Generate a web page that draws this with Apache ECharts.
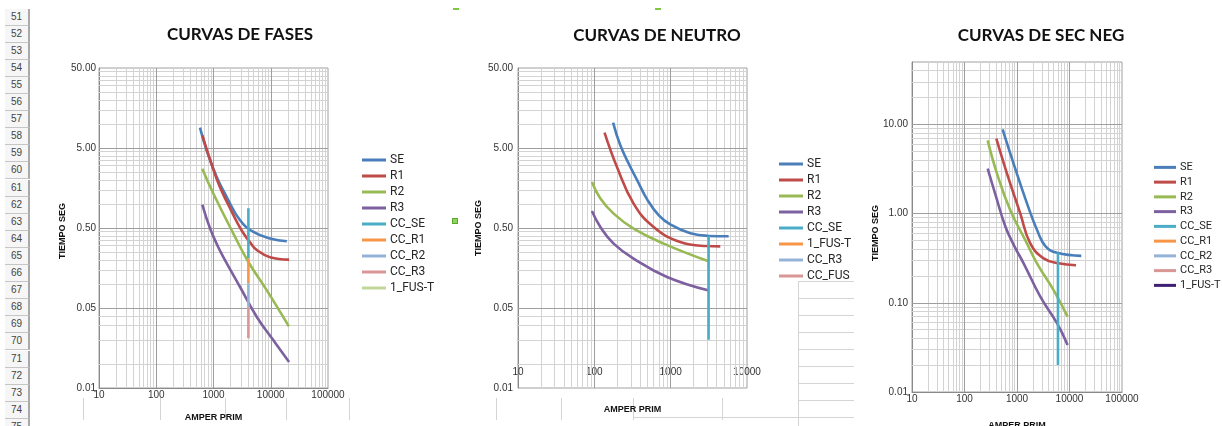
<!DOCTYPE html>
<html><head><meta charset="utf-8">
<script src="https://cdn.jsdelivr.net/npm/echarts@6/dist/echarts.min.js"></script>
<style>
html,body{margin:0;padding:0;background:#fff;width:1222px;height:426px;overflow:hidden;font-family:"Liberation Sans",Arial,sans-serif;}
.rowhdr{position:absolute;left:5px;width:23px;height:16px;border-bottom:1px solid #c6c6c6;border-right:2px solid #a9a9a9;background:#f6f6f6;font-size:10px;color:#444;text-align:center;line-height:16px;}
.vl{position:absolute;width:1px;background:#d4d4d4;}
.hl{position:absolute;height:1px;background:#d4d4d4;}
.chart{position:absolute;top:0;height:426px;}
.h1{position:absolute;background:#7cc843;}
</style></head>
<body>
<div id="sheet"></div>
<div id="c1" class="chart" style="left:35px;width:410px;"></div>
<div id="c2" class="chart" style="left:455px;width:404px;"></div>
<div id="c3" class="chart" style="left:845px;width:392px;"></div>
<script>
// ---------------- tick labels ----------------
const X_TICKS_4 = [10, 100, 1000, 10000, 100000];
const X_LABELS_4 = ['10', '100', '1000', '10000', '100000'];
const X_TICKS_3 = [10, 100, 1000, 10000];
const X_LABELS_3 = ['10', '100', '1000', '10000'];
const Y_TICKS_A = [0.005, 0.05, 0.5, 5, 50];
const Y_LABELS_A = ['0.01', '0.05', '0.50', '5.00', '50.00'];
const Y_TICKS_C = [0.01, 0.1, 1, 10];
const Y_LABELS_C = ['0.01', '0.10', '1.00', '10.00'];

// ---------------- CURVAS DE FASES ----------------
const F_SE_A = [580, 760, 1137, 1702, 2910, 4980, 9750, 19100];
const F_SE_T = [9.0, 4.68, 2.17, 1.22, 0.624, 0.446, 0.369, 0.341];
const F_R1_A = [640, 800, 1137, 1486, 2000, 2547, 3400, 4356, 5710, 9750, 20900];
const F_R1_T = [7.2, 4.3, 2.05, 1.3, 0.85, 0.6, 0.42, 0.33, 0.265, 0.215, 0.201];
const F_R2_A = [637, 993, 2223, 4070, 8550, 20700];
const F_R2_T = [2.76, 1.35, 0.426, 0.188, 0.083, 0.0295];
const F_R3_A = [637, 869, 1213, 1486, 2910, 5710, 11140, 20900];
const F_R3_T = [0.98, 0.496, 0.287, 0.217, 0.0915, 0.0386, 0.0197, 0.0106];
const F_CCSE_A = [4070, 4070];  const F_CCSE_T = [0.88, 0.21];
const F_CCR1_A = [4070, 4070];  const F_CCR1_T = [0.21, 0.102];
const F_CCR2_A = [4070, 4070];  const F_CCR2_T = [0.102, 0.051];
const F_CCR3_A = [4070, 4070];  const F_CCR3_T = [0.051, 0.0209];
const F_FUS_A = [];  const F_FUS_T = [];

// ---------------- CURVAS DE NEUTRO ----------------
const N_SE_A = [176, 219, 296, 362, 489, 700, 1000, 1808, 3140, 5740];
const N_SE_T = [10.4, 5.4, 2.9, 2.0, 1.15, 0.72, 0.55, 0.43, 0.398, 0.394];
const N_R1_A = [136, 198, 327, 598, 1337, 2990, 4470];
const N_R1_T = [7.79, 2.89, 1.01, 0.515, 0.334, 0.298, 0.295];
const N_R2_A = [93, 120, 179, 327, 809, 3080];
const N_R2_T = [1.88, 1.17, 0.757, 0.491, 0.319, 0.193];
const N_R3_A = [93, 120, 179, 327, 895, 3080];
const N_R3_T = [0.816, 0.515, 0.319, 0.207, 0.122, 0.0833];
const N_CCSE_A = [3140, 3140];  const N_CCSE_T = [0.397, 0.0201];

// ---------------- CURVAS DE SEC NEG ----------------
const S_SE_A = [532, 861, 1549, 2500, 3500, 5780, 16800];
const S_SE_T = [8.79, 3.63, 1.30, 0.62, 0.43, 0.363, 0.336];
const S_R1_A = [404, 645, 1156, 1790, 3210, 6200, 13300];
const S_R1_T = [6.92, 2.81, 1.0, 0.463, 0.315, 0.277, 0.263];
const S_R2_A = [276, 416, 745, 1440, 2400, 4980, 9200];
const S_R2_T = [6.62, 2.81, 1.09, 0.504, 0.277, 0.139, 0.070];
const S_R3_A = [276, 386, 598, 889, 1337, 2780, 5780, 9200];
const S_R3_T = [3.19, 1.65, 0.722, 0.432, 0.277, 0.117, 0.059, 0.0337];
const S_CCSE_A = [6030, 6030];  const S_CCSE_T = [0.363, 0.0201];

// ---------------- styling ----------------
const C = {SE:'#4A7EBB', R1:'#BE4B48', R2:'#98B954', R3:'#7D60A0', CCSE:'#4BACC6', CCR1:'#F79646',
           CCR2:'#95B3D7', CCR3:'#D99694', FUSL:'#C3D69B', FUSD:'#3F1F73'};
const MINOR_C = '#d3d3d3', MAJOR_C = '#9e9e9e', AXIS_C = '#8a8a8a';

// ---------------- spreadsheet background ----------------
(function(){
  const sh = document.getElementById('sheet');
  let html = '';
  for (let r = 51; r <= 75; r++) {
    const top = 8.5 + (r - 51) * 17.1;
    html += '<div class="rowhdr" style="top:' + top.toFixed(1) + 'px">' + r + '</div>';
  }
  [83,160,225,286,349,496,561,633,722].forEach(x => { html += '<div class="vl" style="left:'+x+'px;top:398px;height:22px"></div>'; });
  html += '<div class="vl" style="left:798px;top:281px;height:145px"></div>';
  [281,298,315,332,349,366,383,400,417].forEach(y => { html += '<div class="hl" style="left:798px;top:'+y+'px;width:56px"></div>'; });
  html += '<div class="hl" style="left:633px;top:417px;width:165px"></div>';
  html += '<div class="h1" style="left:453px;top:8px;width:6px;height:2px"></div>';
  html += '<div class="h1" style="left:655px;top:8px;width:6px;height:2px"></div>';
  html += '<div class="h1" style="left:452px;top:218px;width:6px;height:6px;background:#8ed45a;border:1px solid #5aa82c;box-sizing:border-box"></div>';
  sh.innerHTML = html;
})();

function pairs(A, T) { return A.map((a, i) => [a, T[i]]); }
function labelFor(ticks, labels, v) {
  let best = -1, bd = Infinity;
  ticks.forEach((t, i) => { const d = Math.abs(Math.log10(t) - Math.log10(v)); if (d < bd) { bd = d; best = i; } });
  return bd < 0.02 ? labels[best] : '';
}
function minorVals(bases, limit) {
  const out = [];
  bases.forEach(b => { for (let k = 2; k <= 9; k++) { const v = b * k; if (v < limit * 0.999) out.push(v); } });
  return out;
}

function build(id, c) {
  const chart = echarts.init(document.getElementById(id), null, {renderer: 'canvas'});
  const mk = [];
  const ls = col => ({color: col, width: 1, type: 'solid'});
  c.xMinor.forEach(v => mk.push({xAxis: v, lineStyle: ls(MINOR_C)}));
  c.yMinor.forEach(v => mk.push({yAxis: v, lineStyle: ls(MINOR_C)}));
  c.xMajor.forEach(v => mk.push({xAxis: v, lineStyle: ls(MAJOR_C)}));
  c.yMajor.forEach(v => mk.push({yAxis: v, lineStyle: ls(MAJOR_C)}));
  const series = [{
    type: 'line', name: '__grid', data: [], silent: true, z: 1, animation: false,
    markLine: {silent: true, z: 1, symbol: ['none', 'none'], label: {show: false}, animation: false,
               emphasis: {disabled: true}, data: mk}
  }];
  c.series.forEach(s => series.push({
    type: 'line', name: s.name, data: pairs(s.A, s.T), showSymbol: false, symbol: 'none',
    smooth: s.A.length > 2 ? 0.45 : false, z: 6, animation: false,
    lineStyle: {color: s.color, width: 2.6}, itemStyle: {color: s.color}
  }));
  chart.setOption({
    animation: false,
    title: {text: c.title, left: 'center', top: c.titleTop, padding: 0,
            textStyle: {fontFamily: 'Lato', fontWeight: 'bold', fontSize: 17, color: '#111'}},
    legend: {
      orient: 'vertical', left: c.legLeft, top: c.legTop, itemGap: 0, itemWidth: c.legIW, itemHeight: 3,
      icon: 'rect', selectedMode: false, padding: 0,
      textStyle: {fontFamily: 'Roboto', fontSize: c.legFS, color: '#262626', lineHeight: c.legLH, padding: [0, 0, 0, -1]},
      data: c.series.map(s => s.name)
    },
    grid: {left: c.grid[0], top: c.grid[1], width: c.grid[2], height: c.grid[3], show: true,
           borderColor: '#a0a0a0', borderWidth: 1, containLabel: false, outerBoundsMode: 'none'},
    xAxis: {
      type: 'log', logBase: 10, min: c.xTicks[0], max: c.xTicks[c.xTicks.length - 1],
      offset: c.xOffset || 0,
      name: 'AMPER PRIM', nameLocation: 'middle', nameGap: c.xNameGap, nameMoveOverlap: false,
      nameTextStyle: {fontFamily: 'Liberation Sans', fontWeight: 'bold', fontSize: 9, color: '#111'},
      axisLine: {show: true, lineStyle: {color: AXIS_C, width: 1}},
      axisTick: {show: false},
      splitLine: {show: false}, minorSplitLine: {show: false},
      axisLabel: {customValues: c.xTicks, showMinLabel: true, showMaxLabel: true, margin: c.xLabMargin,
                  fontFamily: 'Liberation Sans', fontSize: 10, color: '#333',
                  formatter: v => labelFor(c.xTicks, c.xLabels, v)}
    },
    yAxis: {
      type: 'log', logBase: 10, min: c.yMin, max: c.yMax,
      name: 'TIEMPO SEG', nameLocation: 'middle', nameGap: c.yNameGap, nameRotate: 90, nameMoveOverlap: false,
      nameTextStyle: {fontFamily: 'Liberation Sans', fontWeight: 'bold', fontSize: 9, color: '#111',
                      padding: [0, c.yNamePad, 0, 0]},
      axisLine: {show: true, lineStyle: {color: AXIS_C, width: 1}},
      axisTick: {show: false},
      splitLine: {show: false}, minorSplitLine: {show: false},
      axisLabel: {customValues: c.yTicks, showMinLabel: true, showMaxLabel: true, margin: c.yLabMargin,
                  fontFamily: 'Liberation Sans', fontSize: 10, color: '#333',
                  formatter: v => labelFor(c.yTicks, c.yLabels, v)}
    },
    series: series
  });
}

const X_MINOR_4 = minorVals([10, 100, 1000, 10000], 100000);
const X_MINOR_3 = minorVals([10, 100, 1000], 10000);

build('c1', {
  title: 'CURVAS DE FASES', titleTop: 26,
  grid: [64, 68, 229, 320], legLeft: 327, legTop: 152, legLH: 16, legFS: 12, legIW: 24,
  xTicks: X_TICKS_4, xLabels: X_LABELS_4, xNameGap: 25, xLabMargin: 2,
  yMin: 0.005, yMax: 50, yTicks: Y_TICKS_A, yLabels: Y_LABELS_A, yNameGap: 32, yNamePad: 6, yLabMargin: 3,
  xMinor: X_MINOR_4, xMajor: [100, 1000, 10000],
  yMinor: minorVals([0.005, 0.05, 0.5, 5], 50), yMajor: [0.05, 0.5, 5],
  series: [
    {name: 'SE', color: C.SE, A: F_SE_A, T: F_SE_T},
    {name: 'R1', color: C.R1, A: F_R1_A, T: F_R1_T},
    {name: 'R2', color: C.R2, A: F_R2_A, T: F_R2_T},
    {name: 'R3', color: C.R3, A: F_R3_A, T: F_R3_T},
    {name: 'CC_SE', color: C.CCSE, A: F_CCSE_A, T: F_CCSE_T},
    {name: 'CC_R1', color: C.CCR1, A: F_CCR1_A, T: F_CCR1_T},
    {name: 'CC_R2', color: C.CCR2, A: F_CCR2_A, T: F_CCR2_T},
    {name: 'CC_R3', color: C.CCR3, A: F_CCR3_A, T: F_CCR3_T},
    {name: '1_FUS-T', color: C.FUSL, A: F_FUS_A, T: F_FUS_T}
  ]
});

build('c2', {
  title: 'CURVAS DE NEUTRO', titleTop: 27,
  grid: [63, 68, 229, 320], legLeft: 324, legTop: 156, legLH: 16, legFS: 12, legIW: 24,
  xTicks: X_TICKS_3, xLabels: X_LABELS_3, xNameGap: 41, xLabMargin: 3, xOffset: -24,
  yMin: 0.005, yMax: 50, yTicks: Y_TICKS_A, yLabels: Y_LABELS_A, yNameGap: 35, yNamePad: 0, yLabMargin: 5,
  xMinor: X_MINOR_3, xMajor: [100, 1000],
  yMinor: minorVals([0.005, 0.05, 0.5, 5], 50), yMajor: [0.05, 0.5, 5],
  series: [
    {name: 'SE', color: C.SE, A: N_SE_A, T: N_SE_T},
    {name: 'R1', color: C.R1, A: N_R1_A, T: N_R1_T},
    {name: 'R2', color: C.R2, A: N_R2_A, T: N_R2_T},
    {name: 'R3', color: C.R3, A: N_R3_A, T: N_R3_T},
    {name: 'CC_SE', color: C.CCSE, A: N_CCSE_A, T: N_CCSE_T},
    {name: '1_FUS-T', color: C.CCR1, A: [], T: []},
    {name: 'CC_R3', color: C.CCR2, A: [], T: []},
    {name: 'CC_FUS', color: C.CCR3, A: [], T: []}
  ]
});

build('c3', {
  title: 'CURVAS DE SEC NEG', titleTop: 27,
  grid: [67, 62, 210, 330], legLeft: 309, legTop: 160, legLH: 14.75, legFS: 11, legIW: 22,
  xTicks: X_TICKS_4, xLabels: X_LABELS_4, xNameGap: 29, xLabMargin: 2,
  yMin: 0.01, yMax: 50, yTicks: Y_TICKS_C, yLabels: Y_LABELS_C, yNameGap: 32, yNamePad: 12, yLabMargin: 4,
  xMinor: X_MINOR_4, xMajor: [100, 1000, 10000],
  yMinor: minorVals([0.01, 0.1, 1, 10], 50.01), yMajor: [0.1, 1, 10],
  series: [
    {name: 'SE', color: C.SE, A: S_SE_A, T: S_SE_T},
    {name: 'R1', color: C.R1, A: S_R1_A, T: S_R1_T},
    {name: 'R2', color: C.R2, A: S_R2_A, T: S_R2_T},
    {name: 'R3', color: C.R3, A: S_R3_A, T: S_R3_T},
    {name: 'CC_SE', color: C.CCSE, A: S_CCSE_A, T: S_CCSE_T},
    {name: 'CC_R1', color: C.CCR1, A: [], T: []},
    {name: 'CC_R2', color: C.CCR2, A: [], T: []},
    {name: 'CC_R3', color: C.CCR3, A: [], T: []},
    {name: '1_FUS-T', color: C.FUSD, A: [], T: []}
  ]
});
</script>
</body></html>
